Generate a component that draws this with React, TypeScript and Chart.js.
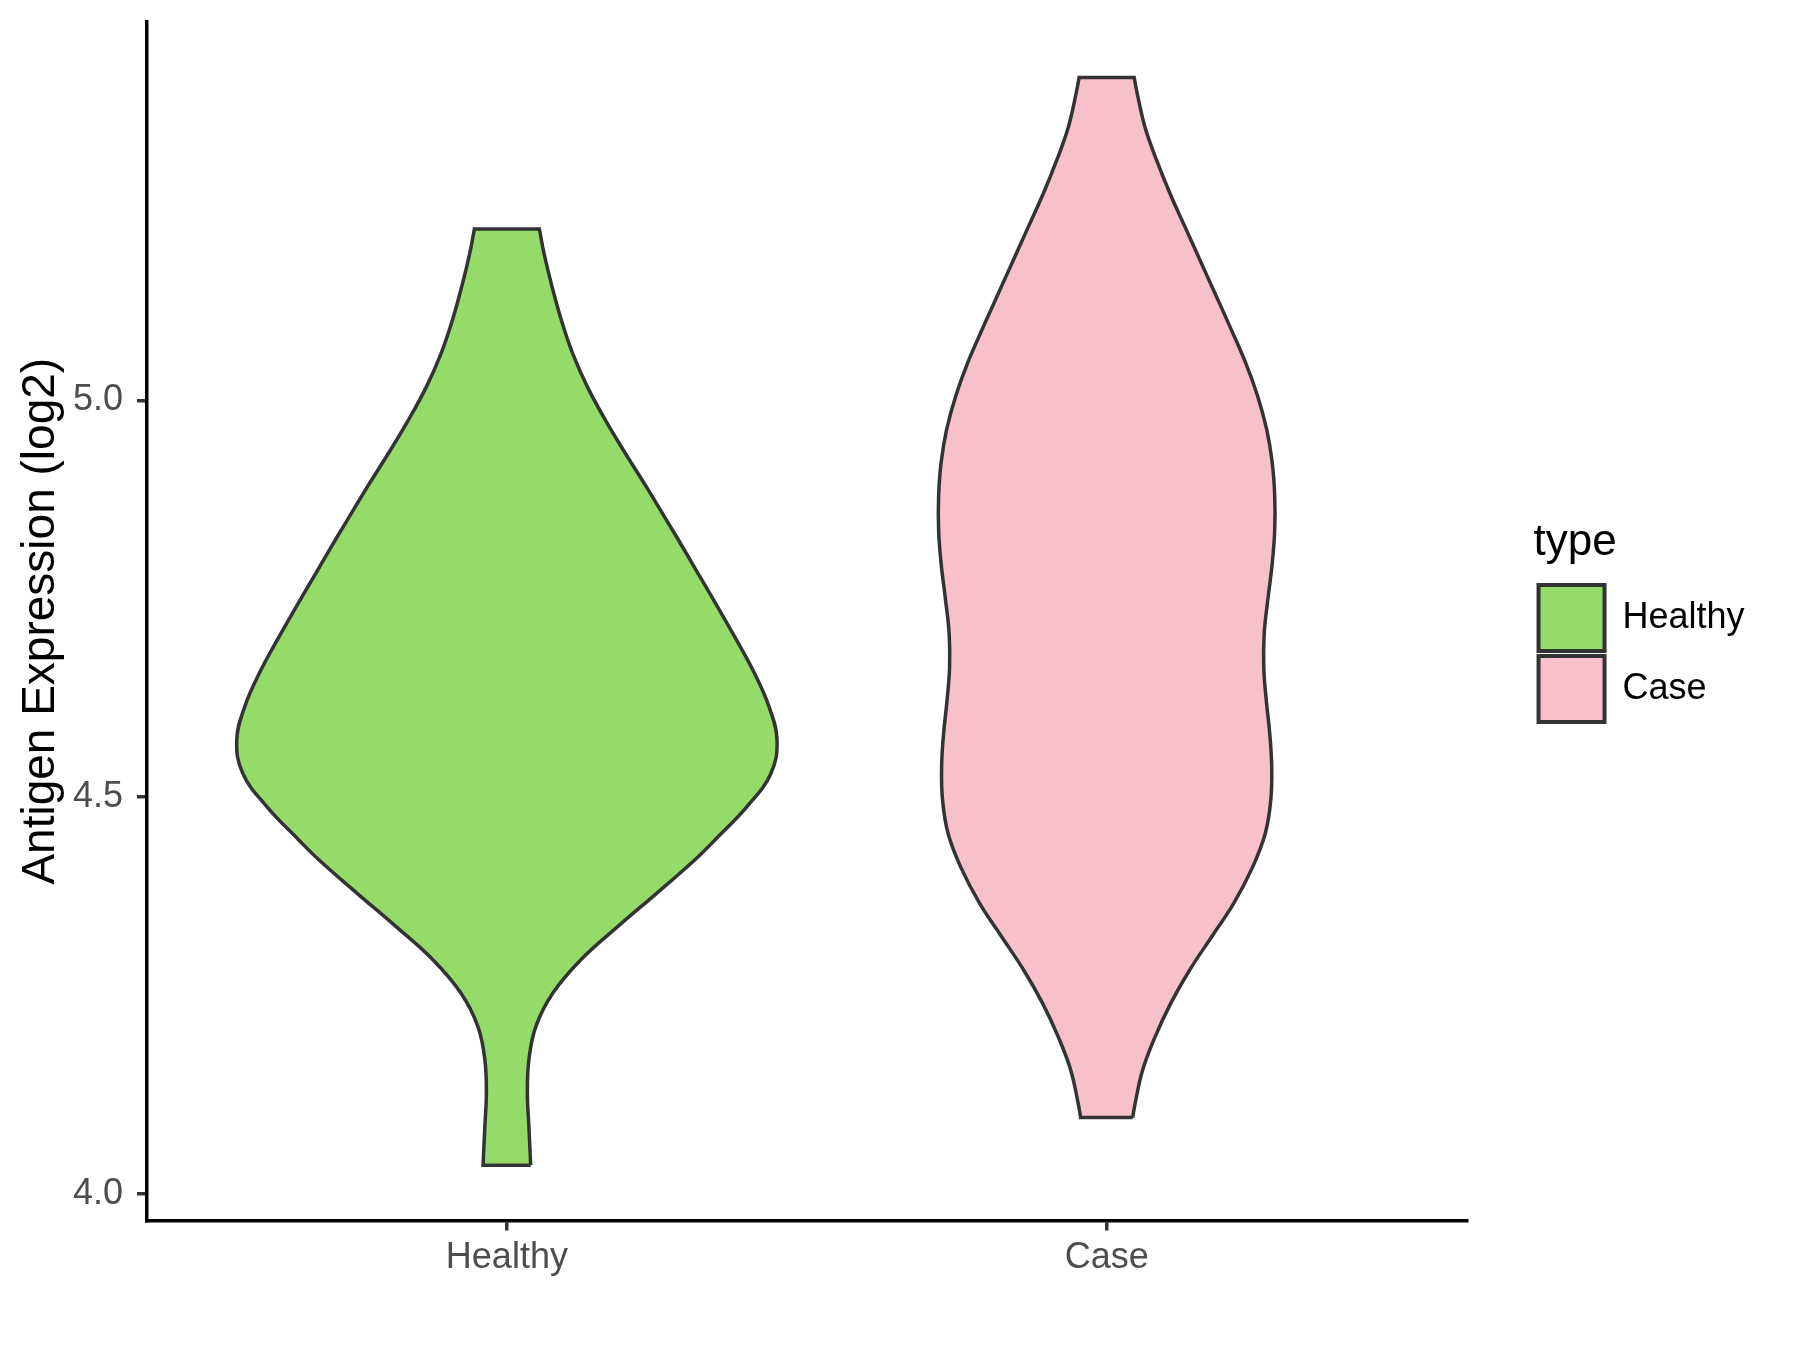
import React, { useEffect, useRef } from "react";
import { Chart, registerables } from "chart.js";

Chart.register(...registerables);

// ---- data ----
const categories = ["Healthy", "Case"];
const fillColors = ["#94DB6A", "#F7C0CB"];
const outlineColor = "#333333";
const yTickValues = [4.0, 4.5, 5.0];
const legendTitle = "type";
const yAxisTitle = "Antigen Expression (log2)";

// violin outlines: expression values (top -> bottom) and half widths (category units)
const healthyY = [5.216, 5.185, 5.143, 5.101, 5.059, 5.017, 4.975, 4.933, 4.891, 4.849, 4.824, 4.782, 4.74, 4.698, 4.656, 4.614, 4.572, 4.53, 4.488, 4.446, 4.421, 4.379, 4.337, 4.295, 4.253, 4.211, 4.169, 4.127, 4.085, 4.036];
const healthyHalfWidth = [0.0542, 0.062, 0.0754, 0.0909, 0.1098, 0.1343, 0.1643, 0.1977, 0.2327, 0.2661, 0.2861, 0.3186, 0.3511, 0.3828, 0.4128, 0.437, 0.4504, 0.4404, 0.4003, 0.347, 0.3136, 0.2502, 0.1852, 0.1234, 0.0767, 0.0484, 0.0367, 0.0342, 0.0367, 0.0397];

const caseY = [5.407, 5.387, 5.345, 5.303, 5.261, 5.219, 5.177, 5.135, 5.093, 5.047, 5.005, 4.963, 4.921, 4.879, 4.837, 4.795, 4.753, 4.707, 4.664, 4.622, 4.58, 4.538, 4.496, 4.454, 4.412, 4.366, 4.324, 4.282, 4.24, 4.198, 4.156, 4.114, 4.096];
const caseHalfWidth = [0.0459, 0.0509, 0.0637, 0.0831, 0.1054, 0.1304, 0.1555, 0.1805, 0.2055, 0.2319, 0.2519, 0.2669, 0.2761, 0.2802, 0.2802, 0.2761, 0.2694, 0.2627, 0.2619, 0.2661, 0.2719, 0.2752, 0.2736, 0.2644, 0.2435, 0.2118, 0.1751, 0.1384, 0.1068, 0.0809, 0.06, 0.0475, 0.0434];

const violinYs = [healthyY, caseY];
const violinWidths = [healthyHalfWidth, caseHalfWidth];

// closed outline; corner points are repeated so the spline keeps the flat ends straight
function outline(center: number, ys: number[], ws: number[]) {
  const right = ys.map((y, i) => ({ x: center + ws[i], y })).reverse(); // bottom -> top
  const left = ys.map((y, i) => ({ x: center - ws[i], y })); // top -> bottom
  const br = right[0];
  const tr = right[right.length - 1];
  const tl = left[0];
  const bl = left[left.length - 1];
  return [br, ...right, tr, tl, ...left, bl, br].map((p) => ({ x: p.x, y: p.y }));
}

const FONT = "'Liberation Sans', Arial, Helvetica, sans-serif";

export default function App() {
  const ref = useRef<HTMLCanvasElement>(null);

  useEffect(() => {
    if (!ref.current) return;
    Chart.defaults.font.family = FONT;

    const datasets = categories.map((name, i) => ({
      label: name,
      data: outline(i + 1, violinYs[i], violinWidths[i]),
      xAxisID: "x",
      yAxisID: "y",
      showLine: true,
      fill: "shape",
      backgroundColor: fillColors[i],
      borderColor: outlineColor,
      borderWidth: 3.5,
      pointRadius: 0,
      pointHoverRadius: 0,
      tension: 0.4,
      capBezierPoints: false,
      borderJoinStyle: "miter",
    }));

    const chart = new Chart(ref.current, {
      type: "line",
      data: { datasets } as any,
      options: {
        responsive: false,
        animation: false,
        events: [],
        layout: { padding: { top: 22, left: 0, right: 45.4, bottom: 0 } },
        scales: {
          x: {
            type: "linear",
            position: "bottom",
            min: 0.4,
            max: 2.6,
            afterBuildTicks: (s: any) => {
              s.ticks = categories.map((_, i) => ({ value: i + 1 }));
            },
            afterFit: (s: any) => {
              s.height = 129.5;
              s.paddingLeft = 0;
              s.paddingRight = 0;
            },
            ticks: {
              callback: (v: any) => categories[Math.round(Number(v)) - 1] ?? "",
              font: { size: 36, family: FONT },
              color: "#4D4D4D",
              padding: 6,
              autoSkip: false,
              maxRotation: 0,
              minRotation: 0,
            },
            grid: {
              drawOnChartArea: false,
              drawTicks: true,
              tickLength: 10,
              color: "#333333",
              lineWidth: 3.5,
            },
            border: { display: true, color: "#000000", width: 3.5 },
          },
          y: {
            type: "linear",
            position: "left",
            min: 3.9663,
            max: 5.4769,
            afterBuildTicks: (s: any) => {
              s.ticks = yTickValues.map((v) => ({ value: v }));
            },
            afterFit: (s: any) => {
              s.width = 147;
              s.paddingTop = 0;
              s.paddingBottom = 0;
            },
            ticks: {
              callback: (v: any) => Number(v).toFixed(1),
              font: { size: 36, family: FONT },
              color: "#4D4D4D",
              padding: 14,
            },
            grid: {
              drawOnChartArea: false,
              drawTicks: true,
              tickLength: 10,
              color: "#333333",
              lineWidth: 3.5,
            },
            border: { display: true, color: "#000000", width: 3.5 },
            title: {
              display: true,
              text: yAxisTitle,
              color: "#000000",
              font: { size: 46, family: FONT },
              padding: { top: 14, bottom: 0 },
            },
          },
          yr: {
            type: "linear",
            position: "right",
            min: 0,
            max: 1,
            display: true,
            grid: { display: false, drawTicks: false },
            border: { display: false },
            ticks: { display: false },
            afterFit: (s: any) => {
              s.width = 67;
              s.paddingTop = 0;
              s.paddingBottom = 0;
            },
          },
        },
        plugins: {
          tooltip: { enabled: false },
          legend: {
            display: true,
            position: "right",
            align: "start",
            title: {
              display: true,
              text: legendTitle,
              position: "start",
              color: "#000000",
              font: { size: 44, family: FONT },
              padding: { top: 498.5, bottom: 6.7 },
            },
            labels: {
              boxWidth: 66,
              boxHeight: 66,
              padding: 5,
              color: "#000000",
              font: { size: 36, family: FONT },
              generateLabels: () =>
                categories.map((c, i) => ({
                  text: c,
                  fillStyle: fillColors[i],
                  strokeStyle: outlineColor,
                  lineWidth: 4,
                  hidden: false,
                  datasetIndex: i,
                  fontColor: "#000000",
                  lineJoin: "miter",
                })),
            },
          },
        },
      } as any,
    });
    return () => chart.destroy();
  }, []);

  return (
    <div style={{ position: "absolute", left: 0, top: 0, width: 1800, height: 1350, background: "#ffffff" }}>
      <canvas ref={ref} width={1800} height={1350} style={{ width: 1800, height: 1350, display: "block" }} />
    </div>
  );
}
